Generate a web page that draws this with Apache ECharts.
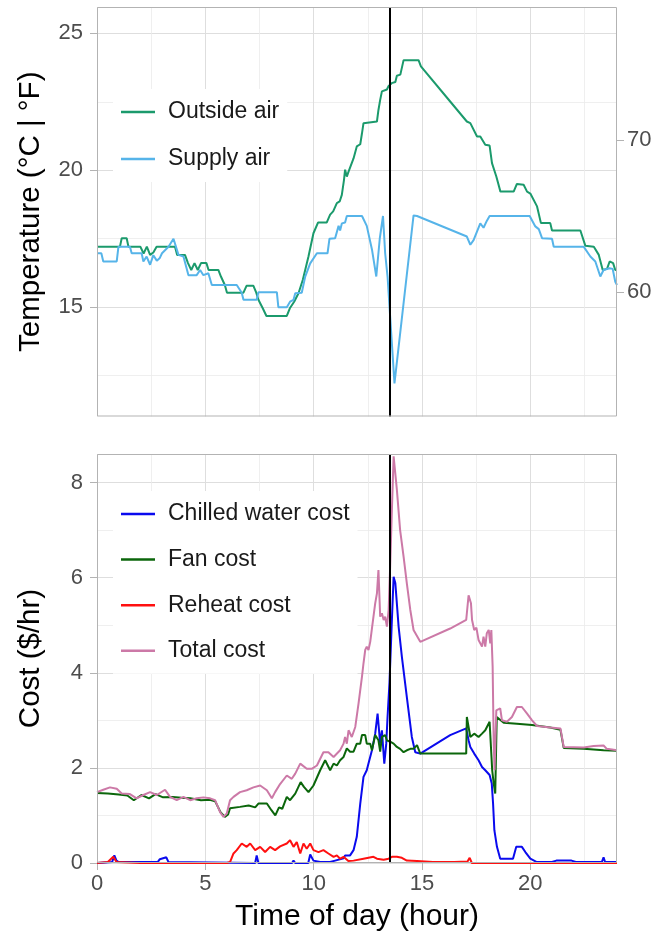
<!DOCTYPE html>
<html>
<head>
<meta charset="utf-8">
<title>Temperature and cost by time of day</title>
<script src="https://cdn.jsdelivr.net/npm/echarts@6/dist/echarts.min.js"></script>
<style>
  html, body { margin: 0; padding: 0; background: #ffffff; }
  #chart { width: 658px; height: 938px; }
</style>
</head>
<body>
<div id="chart"></div>
<script>
// ---- data: [hour of day, value] ----
const outsideAir = [
  [0,17.21],[1.06,17.21],[1.14,17.52],[1.37,17.52],[1.45,17.21],[2.0,17.21],[2.15,16.96],[2.3,17.21],
  [2.45,16.91],[2.6,17.0],[2.75,17.21],[3.6,17.21],[3.7,16.91],[4.06,16.91],[4.2,16.61],[4.35,16.36],
  [4.5,16.61],[4.65,16.36],[4.8,16.61],[5.05,16.61],[5.15,16.36],[5.6,16.36],[5.72,16.12],[5.9,15.81],
  [6.0,15.53],[6.76,15.53],[6.9,15.78],[7.22,15.78],[7.35,15.53],[7.45,15.27],[7.65,14.96],[7.82,14.68],
  [8.76,14.68],[8.9,14.96],[9.1,15.2],[9.3,15.51],[9.5,16.0],[9.76,16.85],[9.99,17.7],[10.2,18.09],
  [10.6,18.09],[10.76,18.38],[10.9,18.5],[11.07,18.8],[11.2,18.86],[11.3,19.1],[11.4,19.65],[11.45,20.02],
  [11.53,19.77],[11.61,19.95],[11.84,20.43],[11.99,20.87],[12.15,20.95],[12.23,21.35],[12.3,21.72],
  [12.92,21.78],[12.99,22.2],[13.07,22.57],[13.15,22.88],[13.38,22.95],[13.46,23.08],[13.6,23.18],
  [13.77,23.22],[13.84,23.45],[14.0,23.49],[14.15,24.02],[14.84,24.02],[14.95,23.79],[16.3,22.51],
  [17.07,21.78],[17.23,21.72],[17.54,21.23],[17.69,21.23],[17.92,20.93],[18.12,20.9],[18.23,20.26],
  [18.43,19.77],[18.62,19.22],[19.23,19.22],[19.38,19.5],[19.69,19.47],[19.85,19.22],[20.0,19.15],
  [20.31,18.68],[20.49,18.07],[20.92,18.07],[21.0,17.8],[22.31,17.8],[22.54,17.24],[22.93,17.21],
  [23.16,16.91],[23.34,16.36],[23.54,16.4],[23.66,16.67],[23.82,16.61],[23.92,16.36],[24.0,16.36]
];

const supplyAir = [
  [0,16.97],[0.2,16.97],[0.29,16.67],[0.91,16.67],[0.99,17.21],[1.52,17.21],[1.6,16.97],[2.06,16.97],
  [2.14,16.67],[2.29,16.85],[2.45,16.55],[2.6,16.9],[2.76,16.7],[2.9,16.8],[3.0,16.97],[3.3,17.21],
  [3.53,17.5],[3.76,16.91],[3.99,16.85],[4.22,16.17],[4.6,16.17],[4.76,16.36],[4.91,16.17],[5.14,16.24],
  [5.3,15.81],[6.45,15.81],[6.68,15.53],[6.76,15.27],[7.37,15.27],[7.45,15.55],[8.3,15.55],[8.37,15.0],
  [8.76,15.0],[8.91,15.2],[9.07,15.27],[9.15,15.51],[9.45,15.53],[9.61,16.12],[9.84,16.6],[10.15,16.97],
  [10.64,16.97],[10.73,17.5],[10.99,17.52],[11.07,17.55],[11.15,17.97],[11.22,17.8],[11.3,18.06],
  [11.45,18.09],[11.53,18.33],[12.23,18.33],[12.45,17.97],[12.69,17.11],[12.89,16.12],[13.05,17.5],
  [13.2,18.33],[13.3,16.97],[13.41,16.12],[13.73,12.22],[14.61,18.35],[14.77,18.33],[17.07,17.58],
  [17.23,17.28],[17.38,17.45],[17.69,18.06],[17.84,17.9],[17.99,18.15],[18.12,18.33],[19.97,18.33],
  [20.23,17.95],[20.39,17.85],[20.54,17.52],[21.0,17.5],[21.08,17.21],[22.46,17.21],[22.77,16.85],
  [23.0,16.67],[23.23,16.12],[23.38,16.36],[23.66,16.42],[23.8,16.4],[23.92,15.93],[24.0,15.81]
];

const chilledWaterCost = [
  [0,0],[0.7,0.02],[0.8,0.16],[0.9,0.05],[1.0,0.02],[2.8,0.02],[2.9,0.08],[3.2,0.12],[3.3,0.02],
  [7.3,0.0],[7.37,0.16],[7.45,0.0],[9.0,0.0],[9.07,0.05],[9.15,0.0],[9.75,0.0],[9.84,0.18],[9.99,0.05],
  [10.3,0.02],[10.76,0.02],[10.99,0.05],[11.38,0.10],[11.45,0.16],[11.68,0.16],[11.84,0.27],[11.99,0.55],
  [12.15,1.25],[12.3,1.81],[12.45,1.95],[12.53,2.09],[12.69,2.37],[12.84,2.72],[12.95,3.14],[13.07,2.51],
  [13.15,2.79],[13.26,2.09],[13.35,2.51],[13.41,3.07],[13.5,3.8],[13.61,5.11],[13.69,6.02],[13.77,5.88],
  [13.92,4.97],[14.07,4.34],[14.3,3.49],[14.53,2.65],[14.69,2.33],[14.92,2.3],[16.3,2.69],[17.04,2.83],
  [17.15,2.58],[17.23,2.44],[17.41,2.3],[17.61,2.16],[17.77,2.02],[17.92,1.95],[18.12,1.85],[18.22,1.67],
  [18.28,1.25],[18.34,0.69],[18.46,0.34],[18.61,0.09],[19.2,0.09],[19.35,0.34],[19.61,0.34],[19.77,0.23],
  [20.0,0.09],[20.3,0.02],[21.0,0.02],[21.2,0.05],[21.9,0.05],[22.1,0.02],[23.3,0.02],[23.38,0.12],
  [23.45,0.02],[24.0,0.02]
];

const fanCost = [
  [0,1.47],[0.5,1.46],[1.0,1.44],[1.4,1.42],[1.7,1.32],[2.05,1.43],[2.4,1.36],[2.7,1.45],[3.05,1.38],
  [3.5,1.39],[3.9,1.37],[4.3,1.36],[4.8,1.32],[5.2,1.33],[5.45,1.30],[5.7,1.07],[5.9,0.97],[6.05,1.02],
  [6.14,1.15],[6.6,1.18],[7.0,1.21],[7.3,1.17],[7.45,1.25],[7.84,1.25],[8.05,1.11],[8.23,1.0],[8.4,1.17],
  [8.55,1.14],[8.76,1.39],[8.91,1.32],[9.15,1.46],[9.4,1.7],[9.55,1.6],[9.76,1.49],[9.99,1.63],[10.3,1.95],
  [10.53,2.16],[10.76,1.95],[10.92,2.09],[11.07,2.05],[11.22,2.16],[11.38,2.23],[11.53,2.41],[11.68,2.34],
  [11.84,2.34],[11.99,2.51],[12.15,2.51],[12.23,2.69],[12.38,2.69],[12.45,2.51],[12.61,2.51],[12.69,2.37],
  [12.84,2.69],[12.99,2.58],[13.07,2.34],[13.15,2.65],[13.3,2.69],[13.38,2.58],[13.53,2.55],[13.69,2.51],
  [13.84,2.44],[13.99,2.40],[14.15,2.33],[14.3,2.37],[14.46,2.40],[14.61,2.40],[14.77,2.48],[14.92,2.3],
  [17.04,2.3],[17.07,3.07],[17.15,2.86],[17.23,2.65],[17.31,2.61],[17.41,2.72],[17.61,2.65],[17.77,2.72],
  [17.92,2.79],[18.12,2.97],[18.2,2.97],[18.24,1.95],[18.31,1.67],[18.38,1.46],[18.45,3.07],[18.53,3.04],
  [18.77,2.95],[19.38,2.93],[20.08,2.90],[20.92,2.85],[21.39,2.80],[21.46,2.80],[21.54,2.42],[22.46,2.40],
  [23.38,2.37],[24.0,2.36]
];

const reheatCost = [
  [0,0],[0.5,0.02],[0.75,0.13],[0.9,0.02],[2.0,0],[6.0,0],[6.14,0.02],[6.3,0.2],[6.45,0.27],[6.68,0.41],
  [6.91,0.34],[7.07,0.41],[7.3,0.27],[7.53,0.34],[7.76,0.23],[7.99,0.34],[8.22,0.27],[8.45,0.35],
  [8.76,0.41],[8.91,0.48],[9.07,0.34],[9.22,0.44],[9.38,0.2],[9.53,0.41],[9.68,0.30],[9.84,0.41],
  [9.99,0.27],[10.22,0.23],[10.45,0.27],[10.68,0.2],[10.76,0.2],[10.92,0.13],[11.07,0.16],[11.22,0.09],
  [11.38,0.13],[11.6,0.04],[11.84,0.05],[12.3,0.09],[12.76,0.13],[12.92,0.09],[13.23,0.07],[13.46,0.09],
  [13.61,0.13],[13.84,0.13],[14.07,0.11],[14.3,0.05],[14.77,0.04],[15.5,0.02],[16.5,0.02],[17.1,0.03],
  [17.2,0.11],[17.3,0],[24,0]
];

const totalCost = [
  [0,1.49],[0.29,1.54],[0.6,1.59],[0.91,1.56],[1.14,1.46],[1.52,1.45],[1.83,1.36],[2.14,1.43],[2.45,1.49],
  [2.76,1.43],[3.14,1.54],[3.37,1.39],[3.68,1.32],[3.99,1.39],[4.3,1.32],[4.6,1.36],[4.91,1.38],[5.22,1.36],
  [5.45,1.32],[5.68,1.07],[5.84,0.97],[5.99,1.04],[6.14,1.32],[6.3,1.39],[6.6,1.49],[6.91,1.53],[7.22,1.59],
  [7.53,1.63],[7.84,1.53],[8.07,1.36],[8.22,1.49],[8.45,1.66],[8.76,1.84],[8.99,1.77],[9.15,1.88],[9.38,2.09],
  [9.68,1.98],[9.91,1.98],[10.15,2.05],[10.45,2.33],[10.68,2.33],[10.92,2.23],[11.22,2.37],[11.38,2.51],
  [11.45,2.65],[11.53,2.51],[11.61,2.79],[11.76,2.65],[11.92,2.86],[12.07,3.35],[12.23,3.92],[12.3,4.2],
  [12.38,4.48],[12.45,4.55],[12.53,4.48],[12.61,4.65],[12.69,4.69],[12.76,5.18],[12.84,5.46],[12.92,5.67],
  [12.99,6.16],[13.07,5.18],[13.15,5.25],[13.23,5.11],[13.3,5.18],[13.38,4.97],[13.46,5.32],[13.53,6.23],
  [13.61,7.42],[13.69,8.55],[13.77,8.55],[13.84,7.85],[13.99,7.0],[14.15,6.44],[14.3,5.88],[14.46,5.32],
  [14.61,4.9],[14.92,4.65],[16.3,4.93],[17.04,5.11],[17.15,5.63],[17.26,5.46],[17.31,5.11],[17.41,4.9],
  [17.51,4.95],[17.61,4.69],[17.77,4.55],[17.84,4.76],[17.92,4.55],[17.99,4.83],[18.08,4.9],[18.12,4.93],
  [18.15,4.62],[18.2,4.9],[18.26,4.13],[18.31,2.51],[18.35,1.95],[18.43,3.21],[18.49,3.25],[18.61,3.25],
  [18.69,3.0],[18.92,2.97],[19.15,3.07],[19.38,3.28],[19.61,3.28],[19.85,3.14],[20.08,3.0],[20.31,2.88],
  [20.92,2.85],[21.39,2.83],[21.46,2.83],[21.54,2.44],[22.46,2.43],[22.92,2.46],[23.38,2.47],[23.53,2.40],
  [24.0,2.37]
];

// hour of the event marked by the vertical rule
const markerHour = 13.5;

// axis ticks
const hourTicks = [0, 5, 10, 15, 20];
const hourMinorTicks = [2.5, 7.5, 12.5, 17.5, 22.5];
const celsiusTicks = [15, 20, 25];
const celsiusMinorTicks = [12.5, 17.5, 22.5];
const fahrenheitTicks = [60, 70];
const costTicks = [0, 2, 4, 6, 8];
const costMinorTicks = [1, 3, 5, 7];

// axis ranges
const hourRange = [0, 24];
const celsiusRange = [11.01, 25.96];
const costRange = [0, 8.6];
const toFahrenheit = c => c * 1.8 + 32;

// ---- layout & style ----
const FONT = '"Liberation Sans", Arial, Helvetica, sans-serif';
const PLOT_LEFT = 97, PLOT_WIDTH = 520;
const TOP_PANEL = { top: 7, height: 409.5 };
const BOTTOM_PANEL = { top: 454, height: 409 };
const MAJOR_GRID = '#dedede', MINOR_GRID = '#ebebeb', FRAME = '#b3b3b3', TICK_TEXT = '#4d4d4d';

function majorAxis(extra) {
  return Object.assign({
    type: 'value',
    axisLine: { show: false, onZero: false },
    splitLine: { show: true, lineStyle: { color: MAJOR_GRID, width: 1 } }
  }, extra);
}

function minorAxis(gridIndex, range, ticks, position) {
  return {
    type: 'value', gridIndex, position,
    min: range[0], max: range[1],
    axisLine: { show: false, onZero: false },
    axisTick: { show: false, customValues: ticks },
    axisLabel: { show: false },
    splitLine: { show: true, lineStyle: { color: MINOR_GRID, width: 0.8 } }
  };
}

function tickStyle(values) {
  return { show: true, inside: false, customValues: values, length: 7, lineStyle: { color: FRAME, width: 1 } };
}
function labelStyle(values, margin) {
  return { show: true, customValues: values, fontSize: 22, color: TICK_TEXT, fontFamily: FONT, margin };
}

function lineSeries(name, data, color, xAxisIndex, yAxisIndex, extra) {
  return Object.assign({
    name, type: 'line', data, xAxisIndex, yAxisIndex,
    showSymbol: false, symbol: 'none', clip: true,
    lineStyle: { color, width: 2 }, itemStyle: { color },
    emphasis: { disabled: true }
  }, extra || {});
}

const markerRule = {
  silent: true, symbol: ['none', 'none'], animation: false,
  label: { show: false },
  lineStyle: { color: '#000000', width: 2, type: 'solid' },
  data: [{ xAxis: markerHour }]
};

const legendBase = {
  orient: 'vertical', left: 113, padding: 8, backgroundColor: '#ffffff',
  icon: 'rect', itemWidth: 34, itemHeight: 2.5, selectedMode: false,
  textStyle: { fontSize: 23, color: '#1a1a1a', fontFamily: FONT, lineHeight: 30, padding: [0, 0, 0, 8] }
};

function frameRect(panel) {
  return {
    type: 'rect', silent: true, z: 100,
    shape: { x: PLOT_LEFT + 0.5, y: panel.top + 0.5, width: PLOT_WIDTH - 1, height: panel.height - 1 },
    style: { fill: 'none', stroke: FRAME, lineWidth: 1 }
  };
}

const titleStyle = size => ({ fontSize: size, color: '#000000', fontFamily: FONT });

const option = {
  animation: false,
  backgroundColor: '#ffffff',
  textStyle: { fontFamily: FONT },
  grid: [
    { left: PLOT_LEFT, width: PLOT_WIDTH, top: TOP_PANEL.top, height: TOP_PANEL.height, outerBoundsMode: 'none' },
    { left: PLOT_LEFT, width: PLOT_WIDTH, top: BOTTOM_PANEL.top, height: BOTTOM_PANEL.height, outerBoundsMode: 'none' }
  ],
  xAxis: [
    majorAxis({ gridIndex: 0, position: 'bottom', min: hourRange[0], max: hourRange[1],
      axisTick: { show: false, customValues: hourTicks }, axisLabel: { show: false } }),
    minorAxis(0, hourRange, hourMinorTicks, 'top'),
    majorAxis({ gridIndex: 1, position: 'bottom', min: hourRange[0], max: hourRange[1],
      axisTick: tickStyle(hourTicks), axisLabel: labelStyle(hourTicks, 10),
      name: 'Time of day (hour)', nameLocation: 'middle', nameGap: 39,
      nameTextStyle: titleStyle(30) }),
    minorAxis(1, hourRange, hourMinorTicks, 'top')
  ],
  yAxis: [
    majorAxis({ gridIndex: 0, position: 'left', min: celsiusRange[0], max: celsiusRange[1],
      axisTick: tickStyle(celsiusTicks), axisLabel: labelStyle(celsiusTicks, 14),
      name: 'Temperature (°C | °F)', nameLocation: 'middle', nameGap: 51,
      nameTextStyle: titleStyle(29.5) }),
    { type: 'value', gridIndex: 0, position: 'right',
      min: toFahrenheit(celsiusRange[0]), max: toFahrenheit(celsiusRange[1]),
      axisLine: { show: false, onZero: false }, splitLine: { show: false },
      axisTick: tickStyle(fahrenheitTicks), axisLabel: labelStyle(fahrenheitTicks, 10) },
    minorAxis(0, celsiusRange, celsiusMinorTicks, 'left'),
    majorAxis({ gridIndex: 1, position: 'left', min: costRange[0], max: costRange[1],
      axisTick: tickStyle(costTicks), axisLabel: labelStyle(costTicks, 14),
      name: 'Cost ($/hr)', nameLocation: 'middle', nameGap: 51,
      nameTextStyle: titleStyle(29.5) }),
    minorAxis(1, costRange, costMinorTicks, 'right')
  ],
  legend: [
    Object.assign({}, legendBase, { top: 89, itemGap: 17, data: ['Outside air', 'Supply air'] }),
    Object.assign({}, legendBase, { top: 491, itemGap: 15.6,
      data: ['Chilled water cost', 'Fan cost', 'Reheat cost', 'Total cost'] })
  ],
  series: [
    lineSeries('Outside air', outsideAir, '#1b9a6c', 0, 0),
    lineSeries('Supply air', supplyAir, '#56b4e9', 0, 0, { markLine: markerRule }),
    lineSeries('Chilled water cost', chilledWaterCost, '#0a0aee', 2, 3),
    lineSeries('Fan cost', fanCost, '#0b660b', 2, 3),
    lineSeries('Reheat cost', reheatCost, '#ff1010', 2, 3),
    lineSeries('Total cost', totalCost, '#cc79a7', 2, 3, { markLine: markerRule })
  ],
  graphic: [frameRect(TOP_PANEL), frameRect(BOTTOM_PANEL)]
};

const chart = echarts.init(document.getElementById('chart'), null, { renderer: 'canvas' });
chart.setOption(option);
</script>
</body>
</html>
